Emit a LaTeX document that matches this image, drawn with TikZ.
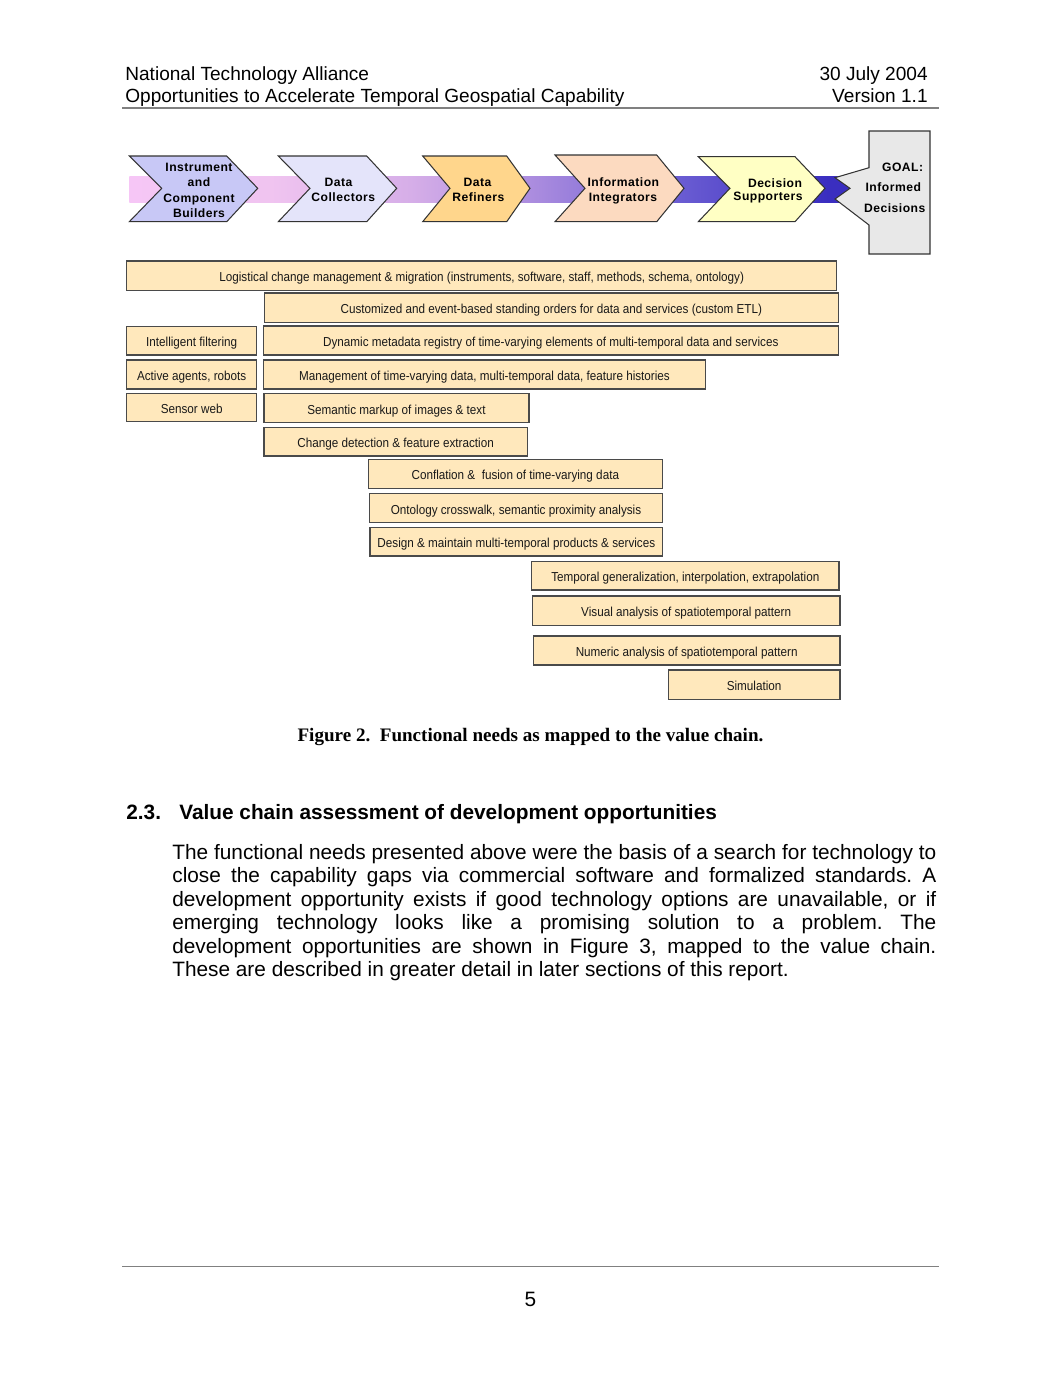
\documentclass[tikz,border=0pt]{standalone}
\usepackage{fontspec}
\setmainfont{Liberation Sans}
\newfontfamily\narrowfont[FakeStretch=0.9]{Liberation Sans}
\newfontfamily\chevfont[LetterSpace=4]{Liberation Sans}
\newfontfamily\capfont{Liberation Serif}
\definecolor{chevA}{HTML}{C8C8F6}
\definecolor{chevB}{HTML}{E4E4FA}
\definecolor{chevC}{HTML}{FFD68C}
\definecolor{chevD}{HTML}{FCDAC0}
\definecolor{chevE}{HTML}{FFFFC4}
\definecolor{goalfill}{HTML}{E8E8E8}
\definecolor{boxfill}{HTML}{FFE8BC}
\definecolor{boxline}{HTML}{4A4A4A}
\definecolor{chevline}{HTML}{333333}
\definecolor{rulegray}{HTML}{808080}
\definecolor{bandA}{HTML}{F6C6F6}
\definecolor{bandB}{HTML}{F0C4F0}
\definecolor{bandC}{HTML}{D6AEE8}
\definecolor{bandD}{HTML}{A88ADE}
\definecolor{bandE}{HTML}{6A5CD2}
\definecolor{bandF}{HTML}{3A2EC0}
\pgfdeclarehorizontalshading{bandshade}{100bp}{color(0bp)=(bandA); color(25bp)=(bandA); color(34.8bp)=(bandB); color(44.5bp)=(bandC); color(53.5bp)=(bandD); color(63.2bp)=(bandE); color(73.5bp)=(bandF); color(100bp)=(bandF)}
\newcommand\needbox[6]{\node[needbox, minimum width={(#4-#2)*0.576814pt}, minimum height={(#5-#3)*0.576814pt}] (#1) at ({(#2+#4)/2},{(#3+#5)/2}) {#6};}
\frenchspacing
\begin{document}
\begin{tikzpicture}[x=0.576814pt,y=-0.576814pt,
  chev/.style={draw=chevline, line width=0.6pt, line join=miter},
  chevtext/.style={anchor=base, inner sep=0pt, font=\chevfont\bfseries\fontsize{7}{8}\selectfont},
  needbox/.style={draw=boxline, fill=boxfill, line width=0.9pt, inner sep=0pt, text height=7pt, text depth=0pt, font=\narrowfont\fontsize{7.5}{9}\selectfont, text=black!90},
  hdr/.style={inner sep=0pt, font=\fontsize{11}{13}\selectfont},
  body/.style={anchor=base west, inner sep=0pt, font=\fontsize{12}{14}\selectfont\frenchspacing},
  pagerule/.style={draw=rulegray, line width=0.8pt}
]
\useasboundingbox (0,0) rectangle (1061,1373);
\fill[white] (0,0) rectangle (1061,1373);

% header
\node[hdr, anchor=base west] (h1) at (125,80) {National Technology Alliance};
\node[hdr, anchor=base west] (h2) at (125,102) {Opportunities to Accelerate Temporal Geospatial Capability};
\node[hdr, anchor=base east] (h3) at (928,80) {30 July 2004};
\node[hdr, anchor=base east] (h4) at (928,102) {Version 1.1};
\coordinate (rl1) at (122,108); \coordinate (rr1) at (939,108);
\draw[pagerule] (rl1) -- (rr1);

% value chain band
\shade[shading=bandshade] (129.3,176.7) rectangle (850,202.7);

% chevrons
\filldraw[chev, fill=chevA] (129.3,156) -- (226.7,156) -- (257.7,188.3) -- (226.7,221.7) -- (129.3,221.7) -- (161.7,188.3) -- cycle;
\filldraw[chev, fill=chevB] (278.3,156) -- (366.7,156) -- (396.7,188.3) -- (366.7,221.7) -- (278.3,221.7) -- (310,188.3) -- cycle;
\filldraw[chev, fill=chevC] (422.7,156) -- (506.7,156) -- (530,188.3) -- (506.7,221.7) -- (422.7,221.7) -- (450,188.3) -- cycle;
\filldraw[chev, fill=chevD] (555,155) -- (656.7,155) -- (684,188.3) -- (656.7,221.7) -- (555,221.7) -- (585,188.3) -- cycle;
\filldraw[chev, fill=chevE] (698.3,156.7) -- (795,156.7) -- (825,188.3) -- (795,221.7) -- (698.3,221.7) -- (730,188.3) -- cycle;
\filldraw[chev, fill=goalfill] (869,131) -- (930,131) -- (930,254) -- (869,254) -- (869,225) -- (835,199) -- (850,188.3) -- (835,177.7) -- (869,167.7) -- cycle;

% chevron labels
\node[chevtext] (c1a) at (199,171.5) {Instrument};
\node[chevtext] (c1b) at (199,186.7) {and};
\node[chevtext] (c1c) at (199,202.3) {Component};
\node[chevtext] (c1d) at (199,217) {Builders};
\node[chevtext] (c2a) at (338.5,186.7) {Data};
\node[chevtext] (c2b) at (343.3,201.7) {Collectors};
\node[chevtext] (c3a) at (477.5,186.7) {Data};
\node[chevtext] (c3b) at (478.3,201.7) {Refiners};
\node[chevtext] (c4a) at (623.3,186.3) {Information};
\node[chevtext] (c4b) at (623,201.7) {Integrators};
\node[chevtext] (c5a) at (775,187) {Decision};
\node[chevtext] (c5b) at (768,200.7) {Supporters};
\node[chevtext, anchor=base east] (g1) at (923.5,171.7) {GOAL:};
\node[chevtext] (g2) at (893.3,191.7) {Informed};
\node[chevtext] (g3) at (894.7,212.3) {Decisions};

% functional needs
\needbox{log}{126.7}{261}{836.7}{290.3}{Logistical change management \& migration (instruments, software, staff, methods, schema, ontology)}
\needbox{cust}{264.3}{293}{838.3}{322.7}{Customized and event-based standing orders for data and services (custom ETL)}
\needbox{filt}{126.7}{326.7}{256.7}{355}{Intelligent filtering}
\needbox{dyn}{263.3}{326}{838.3}{355}{Dynamic metadata registry of time-varying elements of multi-temporal data and services}
\needbox{agents}{126.7}{360}{256.7}{389}{Active agents, robots}
\needbox{mgmt}{263.3}{360}{705.7}{389}{Management of time-varying data, multi-temporal data, feature histories}
\needbox{sensor}{126.7}{393.3}{256.7}{421.7}{Sensor web}
\needbox{markup}{264}{393.3}{529}{422.7}{Semantic markup of images \& text}
\needbox{change}{264}{427.3}{527.3}{456}{Change detection \& feature extraction}
\needbox{confl}{368.3}{459.3}{662.3}{488.3}{Conflation \&\ \ fusion of time-varying data}
\needbox{onto}{369.3}{493.3}{662.7}{522.7}{Ontology crosswalk, semantic proximity analysis}
\needbox{design}{370}{527.3}{662.7}{556}{Design \& maintain multi-temporal products \& services}
\needbox{temp}{531.7}{561.7}{839}{590}{Temporal generalization, interpolation, extrapolation}
\needbox{visual}{532.3}{596}{840}{625.7}{Visual analysis of spatiotemporal pattern}
\needbox{numeric}{533.3}{636}{840}{665}{Numeric analysis of spatiotemporal pattern}
\needbox{sim}{668.3}{670}{840}{699.3}{Simulation}

% caption
\node[anchor=base, inner sep=0pt, font=\capfont\bfseries\fontsize{11}{13}\selectfont] (cap) at (530.5,741) {Figure 2.\ \ Functional needs as mapped to the value chain.};

% section heading
\node[body, font=\bfseries\fontsize{12}{14}\selectfont] (secnum) at (126,819.3) {2.3.};
\node[body, font=\bfseries\fontsize{12}{14}\selectfont] (sectitle) at (179,819.3) {Value chain assessment of development opportunities};

% body text
\node[body] (p1) at (172,859.3) {\makebox[440.7pt][s]{The functional needs presented above were the basis of a search for technology to}};
\node[body] (p2) at (172,882.8) {\makebox[440.7pt][s]{close the capability gaps via commercial software and formalized standards. A}};
\node[body] (p3) at (172,906.3) {\makebox[440.7pt][s]{development opportunity exists if good technology options are unavailable, or if}};
\node[body] (p4) at (172,929.8) {\makebox[440.7pt][s]{emerging technology looks like a promising solution to a problem. The}};
\node[body] (p5) at (172,953.3) {\makebox[440.7pt][s]{development opportunities are shown in Figure 3, mapped to the value chain.}};
\node[body] (p6) at (172,976.8) {These are described in greater detail in later sections of this report.};

% footer
\coordinate (rl2) at (122,1266.7); \coordinate (rr2) at (939,1266.7);
\draw[pagerule] (rl2) -- (rr2);
\node[anchor=base, inner sep=0pt, font=\fontsize{12}{14}\selectfont] (pnum) at (530.5,1306.7) {5};
\end{tikzpicture}
\end{document}
